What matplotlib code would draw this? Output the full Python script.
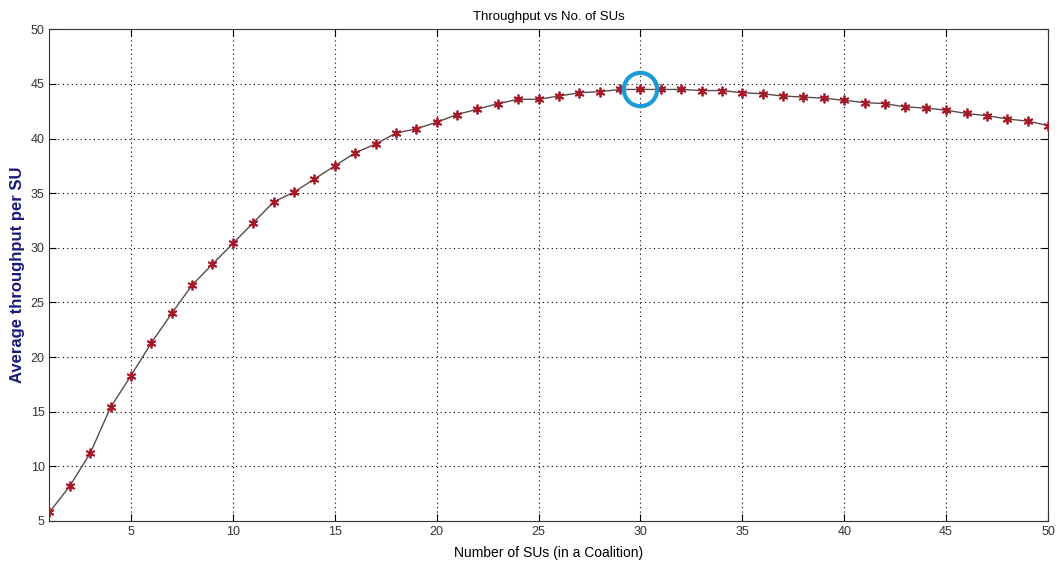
import numpy as np
import matplotlib.pyplot as plt

plt.rcParams['font.family'] = ['Liberation Sans', 'DejaVu Sans']

# average throughput per SU for coalition sizes 1..50
num_sus = list(range(1, 51))
throughput = [5.8, 8.2, 11.2, 15.4, 18.3, 21.3, 24.0, 26.6, 28.5, 30.4,
              32.3, 34.2, 35.1, 36.3, 37.5, 38.7, 39.5, 40.5, 40.9, 41.5,
              42.2, 42.7, 43.2, 43.6, 43.6, 43.9, 44.2, 44.3, 44.5, 44.5,
              44.5, 44.5, 44.4, 44.4, 44.2, 44.1, 43.9, 43.8, 43.7, 43.5,
              43.3, 43.2, 42.9, 42.8, 42.6, 42.3, 42.1, 41.8, 41.6, 41.2]
best_n = 30

fig = plt.figure(figsize=(10.57, 5.65), dpi=100)
ax = fig.add_axes([0.0468, 0.078, 0.9447, 0.870])

ax.plot(num_sus, throughput, color='#5a4a4a', linewidth=1.0,
        marker=(6, 2, 0), markersize=7, markeredgecolor='#a81828',
        markeredgewidth=1.3, zorder=3)

# highlight the peak
ax.plot(best_n, throughput[best_n - 1], marker='o', markersize=24,
        markerfacecolor='none', markeredgecolor='#1a9ad6',
        markeredgewidth=3, zorder=4)

ax.set_xlim(1, 50)
ax.set_ylim(5, 50)
ax.set_xticks(range(5, 51, 5))
ax.set_yticks(range(5, 51, 5))
ax.grid(True, linestyle=(0, (1, 3)), color='black', linewidth=0.8)
ax.tick_params(direction='in', top=True, right=True, length=5,
               labelsize=9, labelcolor='#333333')
for s in ax.spines.values():
    s.set_color('#333333')

ax.set_title('Throughput vs No. of SUs', fontsize=9.5, pad=7)
ax.set_xlabel('Number of SUs (in a Coalition)', fontsize=10, labelpad=6)
ax.set_ylabel('Average throughput per SU', fontsize=12, color='#1a1a7a',
              fontweight='bold', labelpad=4)

fig.savefig('out.png', dpi=100)
